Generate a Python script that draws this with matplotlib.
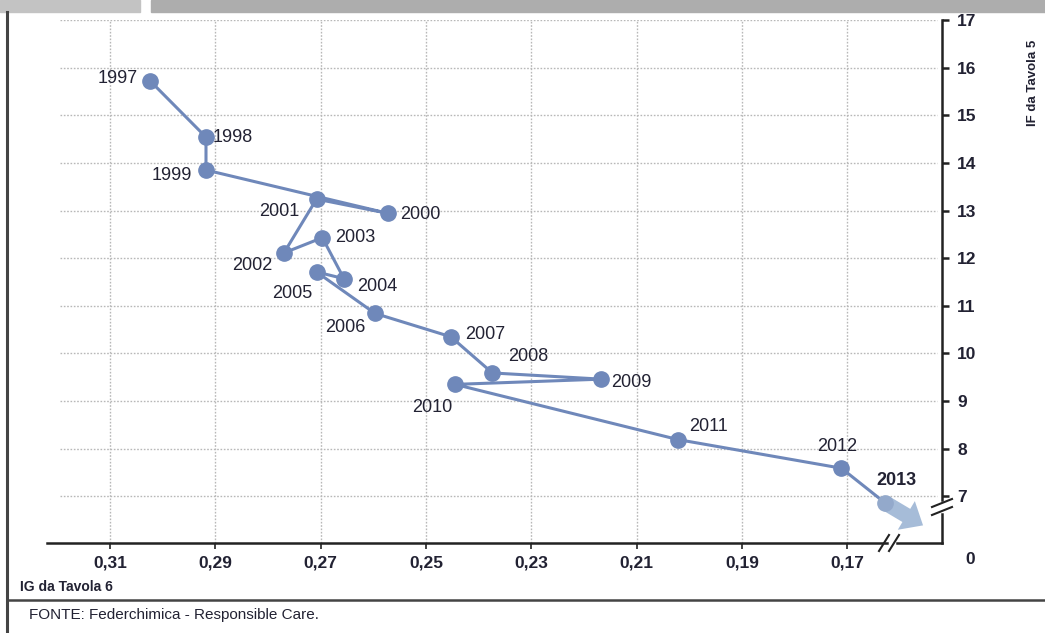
import matplotlib
matplotlib.use("Agg")
import matplotlib.pyplot as plt
from matplotlib.patches import Rectangle, FancyArrowPatch
from matplotlib.lines import Line2D

# ---- data ----
years = ["1997", "1998", "1999", "2000", "2001", "2002", "2003", "2004", "2005",
         "2006", "2007", "2008", "2009", "2010", "2011", "2012", "2013"]
ig_values = [0.3024, 0.2918, 0.2918, 0.2572, 0.2708, 0.2770, 0.2697, 0.2656, 0.2708,
             0.2597, 0.2453, 0.2374, 0.2167, 0.2445, 0.2021, 0.1711, 0.1629]
if_values = [15.72, 14.54, 13.85, 12.94, 13.24, 12.11, 12.43, 11.57, 11.71,
             10.84, 10.35, 9.59, 9.46, 9.35, 8.19, 7.59, 6.87]
arrow_end = (0.1556, 6.39)
x_ticks = [0.31, 0.29, 0.27, 0.25, 0.23, 0.21, 0.19, 0.17]
x_tick_labels = ["0,31", "0,29", "0,27", "0,25", "0,23", "0,21", "0,19", "0,17"]
y_ticks = [7, 8, 9, 10, 11, 12, 13, 14, 15, 16, 17]
y_tick_labels = [str(v) for v in y_ticks]

# label placement (offset pixels, ha)
label_pos = {
    "1997": (-12, 2, "right"), "1998": (7, 0, "left"), "1999": (-14, -5, "right"),
    "2000": (12, -1, "left"), "2001": (-17, -12, "right"), "2002": (-12, -13, "right"),
    "2003": (13, 0, "left"), "2004": (13, -8, "left"), "2005": (-4, -22, "right"),
    "2006": (-9, -14, "right"), "2007": (14, 2, "left"), "2008": (16, 16, "left"),
    "2009": (10, -3, "left"), "2010": (-23, -23, "center"), "2011": (30, 13, "center"),
    "2012": (-4, 22, "center"), "2013": (12, 22, "center"),
}

FONT = ["Liberation Sans Narrow", "Liberation Sans", "DejaVu Sans"]
plt.rcParams["font.family"] = FONT
TXT = "#222233"
BLUE = "#6f88ba"
LIGHT = "#a6bcd8"

W, H = 1045, 633
fig = plt.figure(figsize=(W / 100, H / 100), dpi=100)
fig.patch.set_facecolor("white")

ax_l, ax_r, ax_t, ax_b = 47, 942, 20, 543
ax = fig.add_axes([ax_l / W, 1 - ax_b / H, (ax_r - ax_l) / W, (ax_b - ax_t) / H])
ax.set_xlim(0.322, 0.1520)
ax.set_ylim(6.02, 17.0)
ax.set_facecolor("none")

# grid
for yv in y_ticks:
    ax.plot([0.3195, 0.1530], [yv, yv], ls=(0, (1.2, 1.2)), color="#b8b8b8", lw=1.0, zorder=1)
for xv in x_ticks:
    ax.plot([xv, xv], [6.02, 17.0], ls=(0, (1.2, 1.2)), color="#b8b8b8", lw=1.0, zorder=1)

# series
ax.plot(ig_values[:-1], if_values[:-1], color=BLUE, lw=2.2, marker="o", ms=11,
        mfc=BLUE, mec=BLUE, zorder=3)
ax.plot(ig_values[-2:], if_values[-2:], color=BLUE, lw=2.2, zorder=3)
arr = FancyArrowPatch((ig_values[-1], if_values[-1]), arrow_end,
                      arrowstyle="simple,head_width=1.2,head_length=0.7,tail_width=0.55",
                      mutation_scale=20, color=LIGHT, lw=0, zorder=3,
                      shrinkA=0, shrinkB=0)
ax.add_patch(arr)
ax.plot([ig_values[-1]], [if_values[-1]], marker="o", ms=11, color="#93a9cb", zorder=4, lw=0)

for yr, xv, yv in zip(years, ig_values, if_values):
    dx, dy, ha = label_pos[yr]
    ax.annotate(yr, (xv, yv), xytext=(dx, dy), textcoords="offset pixels",
                ha=ha, va="center", fontsize=13, color=TXT,
                fontweight="bold" if yr == "2013" else "normal", zorder=5)

# axes / spines
ax.spines["top"].set_visible(False)
ax.spines["left"].set_visible(False)
ax.spines["bottom"].set_bounds(0.322, 0.1625)
ax.spines["right"].set_bounds(6.93, 17.0)
for sp in ("bottom", "right"):
    ax.spines[sp].set_linewidth(1.8)
    ax.spines[sp].set_color("#222222")
ax.yaxis.tick_right()
ax.set_xticks(x_ticks)
ax.set_xticklabels(x_tick_labels)
ax.set_yticks(y_ticks)
ax.set_yticklabels(y_tick_labels)
ax.tick_params(axis="x", direction="out", length=4, width=1.2, pad=5,
               labelsize=12.5, labelcolor=TXT, color="#222222")
ax.tick_params(axis="y", direction="out", length=5, width=1.8, pad=6,
               labelsize=12.5, labelcolor=TXT, color="#222222")
for lab in ax.get_xticklabels() + ax.get_yticklabels():
    lab.set_fontweight("bold")

# broken-axis pieces (axes fraction)
aw, ah = ax_r - ax_l, ax_b - ax_t
def fx(px):
    return (px - ax_l) / aw
def fy(py):
    return (ax_b - py) / ah
ax.add_line(Line2D([fx(897), 1.0], [0, 0], transform=ax.transAxes, color="#222222",
                   lw=1.8, clip_on=False))
ax.add_line(Line2D([1.0, 1.0], [0, fy(514)], transform=ax.transAxes, color="#222222",
                   lw=1.8, clip_on=False))
for cx in (884, 894):
    ax.add_line(Line2D([fx(cx - 5), fx(cx + 5)], [fy(551), fy(535)], transform=ax.transAxes,
                       color="#222222", lw=1.5, clip_on=False))
for cy in (503, 511):
    ax.add_line(Line2D([fx(932), fx(952)], [fy(cy + 4), fy(cy - 4)], transform=ax.transAxes,
                       color="#222222", lw=1.5, clip_on=False))
ax.text(fx(970), fy(560), "0", transform=ax.transAxes, ha="center", va="center",
        fontsize=12.5, fontweight="bold", color=TXT)

# frame decorations (figure pixels)
def fxp(px):
    return px / W
def fyp(py):
    return 1 - py / H
fig.patches.append(Rectangle((0, fyp(12)), fxp(140), 12 / H, transform=fig.transFigure,
                             color="#c3c3c3", zorder=0))
fig.patches.append(Rectangle((fxp(151), fyp(12)), 1 - fxp(151), 12 / H,
                             transform=fig.transFigure, color="#adadad", zorder=0))
fig.lines.append(Line2D([fxp(7), fxp(7)], [fyp(12), 0], transform=fig.transFigure,
                        color="#444444", lw=2.2))
fig.lines.append(Line2D([fxp(7), 1], [fyp(600), fyp(600)], transform=fig.transFigure,
                        color="#444444", lw=1.8))

fig.text(fxp(20), fyp(587), "IG da Tavola 6", ha="left", va="center", fontsize=10,
         fontweight="bold", color=TXT)
fig.text(fxp(29), fyp(615), "FONTE: Federchimica - Responsible Care.", ha="left",
         va="center", fontsize=11, color=TXT)
fig.text(fxp(1033), fyp(83), "IF da Tavola 5", ha="center", va="center", rotation=90,
         fontsize=9.5, fontweight="bold", color=TXT)

fig.savefig("out.png", dpi=100, facecolor="white")
